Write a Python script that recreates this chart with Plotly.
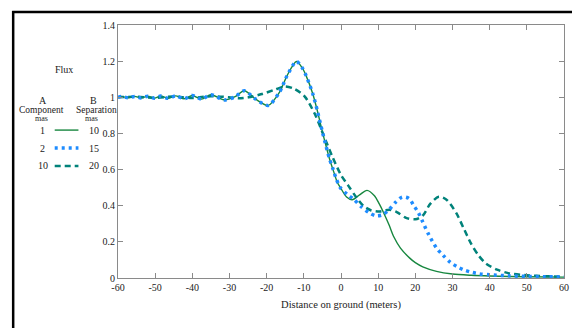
import plotly.graph_objects as go

# ---------------- data ----------------
x_a = [-60, -59, -57.2, -55.5, -53.8, -52, -50.2, -48.5, -46.5, -44.5, -42.2, -40, -37.5, -35,
       -31.3, -28.5, -26, -23, -19.6, -16.5, -14.5, -12, -10.5, -9.4, -7.6, -6.3, -4.9, -3.1,
       -2, -1, 0, 1.5, 3, 5, 7, 9, 10.3, 11.5, 13, 14.2, 16, 18.5, 20, 22, 25.7, 30, 35, 40, 50, 60]
y_a = [1.0, 1.004, 0.997, 1.005, 0.996, 1.006, 0.995, 1.007, 0.994, 1.008, 0.992, 1.01, 0.99, 1.014,
       0.985, 1.003, 1.036, 0.99, 0.955, 1.03, 1.12, 1.198, 1.165, 1.12, 1.02, 0.92, 0.80, 0.66,
       0.59, 0.53, 0.495, 0.448, 0.433, 0.46, 0.485, 0.455, 0.41, 0.36, 0.29, 0.228, 0.165, 0.11,
       0.085, 0.062, 0.037, 0.022, 0.015, 0.011, 0.007, 0.005]

x_b = [-60, -59, -57.2, -55.5, -53.8, -52, -50.2, -48.5, -46.5, -44.5, -42.2, -40, -37.5, -35,
       -31.3, -28.5, -26, -23, -19.6, -16.5, -14.5, -12, -10.5, -9.4, -7.6, -6.3, -4.9, -3.1,
       -2.1, -1.3, -0.2, 1.7, 3.5, 5.5, 7.5, 9.4, 11.2, 13, 14.6, 16.5, 18.3, 19.6, 20.8, 22,
       23.6, 25.8, 27.5, 29.5, 31.4, 33.3, 35.3, 37.2, 40, 45, 50, 55, 60]
y_b = [1.0, 1.004, 0.997, 1.005, 0.996, 1.006, 0.995, 1.007, 0.994, 1.008, 0.992, 1.01, 0.99, 1.014,
       0.985, 1.003, 1.036, 0.99, 0.955, 1.03, 1.12, 1.198, 1.165, 1.12, 1.02, 0.92, 0.80, 0.66,
       0.60, 0.55, 0.50, 0.463, 0.434, 0.393, 0.362, 0.344, 0.35, 0.38, 0.417, 0.448, 0.44, 0.40,
       0.362, 0.31, 0.24, 0.163, 0.125, 0.085, 0.061, 0.043, 0.031, 0.023, 0.018, 0.012, 0.009,
       0.007, 0.006]

x_c = [-60, -55, -50, -45, -40, -35, -30.2, -27.5, -24.9, -21.3, -17.8, -15.1, -12.5, -9.8,
       -7.1, -4.5, -2.3, 0, 2, 4, 6, 8, 10.5, 13, 15, 17.5, 20, 22, 24, 26.3, 28.3, 31, 33,
       35, 37, 39, 42, 45, 50, 55, 60]
y_c = [1.0, 1.003, 0.997, 1.004, 0.996, 1.006, 1.0, 0.994, 1.0, 1.018, 1.042, 1.06, 1.046, 1.005,
       0.91, 0.78, 0.67, 0.57, 0.51, 0.45, 0.40, 0.375, 0.368, 0.378, 0.365, 0.333, 0.325, 0.345,
       0.41, 0.45, 0.435, 0.36, 0.275, 0.19, 0.125, 0.08, 0.046, 0.027, 0.015, 0.01, 0.007]

x_ticks = [-60, -50, -40, -30, -20, -10, 0, 10, 20, 30, 40, 50, 60]
x_tick_labels = ["-60", "-50", "-40", "-30", "-20", "-10", "0", "10", "20", "30", "40", "50", "60"]
y_ticks = [0, 0.2, 0.4, 0.6, 0.8, 1.0, 1.2, 1.4]
y_tick_labels = ["0", "0.2", "0.4", "0.6", "0.8", "1", "1.2", "1.4"]

comp_a = ["1", "2", "10"]
sep_b = ["10", "15", "20"]

# ---------------- styles ----------------
GREEN = "#17873f"
BLUE = "#1e8cff"
TEAL = "#00827a"
FONT = "Liberation Serif, 'Times New Roman', Times, serif"
TXT = "#222222"
AXC = "#8a8a8a"

OFF = 8  # page body margin
W, H = 580 - OFF, 328 - OFF
ML, MR, MT, MB = 118 - OFF, 11, 24 - OFF, 50
PW, PH = W - ML - MR, H - MT - MB


def px(xp):  # screen pixel -> paper
    return (xp - OFF - ML) / PW


def py(yp):
    return (H - MB - (yp - OFF)) / PH


fig = go.Figure()
styles = [
    (x_a, y_a, dict(color=GREEN, width=1.4)),
    (x_c, y_c, dict(color=TEAL, width=2.5, dash="6px,4px")),
    (x_b, y_b, dict(color=BLUE, width=3.5, dash="3px,4px")),
]
for xs, ys, ln in styles:
    fig.add_trace(go.Scatter(x=xs, y=ys, mode="lines", line=dict(shape="spline", smoothing=0.8, **ln),
                             showlegend=False, hoverinfo="skip"))

axis_common = dict(showline=True, linecolor=AXC, linewidth=1, mirror="ticks", ticks="inside",
                   ticklen=5, tickcolor=AXC, showgrid=False, zeroline=False,
                   tickfont=dict(family=FONT, size=10, color=TXT))
fig.update_xaxes(range=[-60, 60], tickvals=x_ticks, ticktext=x_tick_labels,
                 title=dict(text="Distance on ground (meters)", font=dict(family=FONT, size=10.5, color=TXT),
                            standoff=8), **axis_common)
fig.update_yaxes(range=[0, 1.4], tickvals=y_ticks, ticktext=y_tick_labels, **axis_common)

annotations = []


def ann(text, xpix, ypix, size=10):
    annotations.append(dict(text=text, x=px(xpix), y=py(ypix), xref="paper", yref="paper",
                            showarrow=False, xanchor="center", yanchor="middle",
                            font=dict(family=FONT, size=size, color=TXT)))


ann("Flux", 63, 69)
ann("A", 42, 99.5)
ann("Component", 41, 109.5, 9.5)
ann("mas", 41, 117.5, 8)
ann("B", 93, 99.5)
ann("Separation", 96, 109.5, 9.5)
ann("mas", 91, 117.5, 8)

shapes = []
rows_y = [129.5, 147.5, 165.5]
leg_lines = [dict(color=GREEN, width=1.4), dict(color=BLUE, width=3.5, dash="3px,4px"),
             dict(color=TEAL, width=2.5, dash="6px,4px")]
for a, b, yy, ln in zip(comp_a, sep_b, rows_y, leg_lines):
    ann(a, 42, yy)
    ann(b, 94, yy)
    shapes.append(dict(type="line", xref="paper", yref="paper", x0=px(54), x1=px(78), y0=py(yy), y1=py(yy),
                       line=ln))

# frame lines (top and left border of the sheet)
shapes.append(dict(type="line", xref="paper", yref="paper", x0=px(11), x1=px(590), y0=py(11), y1=py(11),
                   line=dict(color="black", width=2.5)))
shapes.append(dict(type="line", xref="paper", yref="paper", x0=px(12), x1=px(12), y0=py(10), y1=py(340),
                   line=dict(color="black", width=2.5)))

fig.update_layout(width=W, height=H, margin=dict(l=ML, r=MR, t=MT, b=MB),
                  paper_bgcolor="white", plot_bgcolor="white",
                  annotations=annotations, shapes=shapes,
                  font=dict(family=FONT, size=10, color=TXT))

fig.write_html("out.html")
